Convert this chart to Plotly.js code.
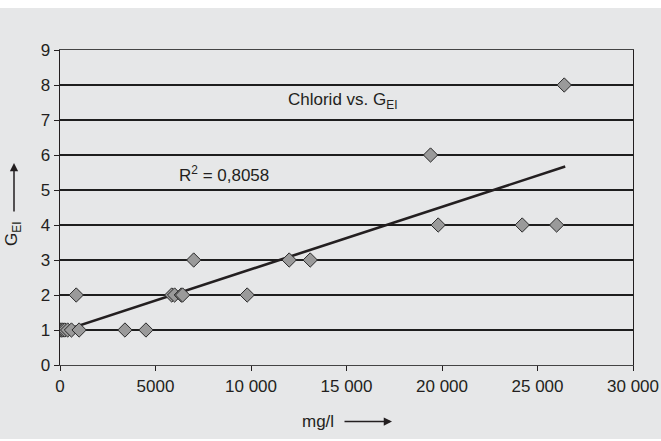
<!DOCTYPE html>
<html>
<head>
<meta charset="utf-8">
<script src="https://cdn.plot.ly/plotly-3.0.1.min.js"></script>
<style>html,body{margin:0;padding:0;background:#fff;}#chart{width:661px;height:441px;}</style>
</head>
<body>
<div id="chart"></div>
<script>
// Measured data: chloride (mg/l) vs G_EI
const chloride = [20, 80, 150, 250, 400, 600, 1000, 850, 3400, 4500, 5850, 6000, 6350, 6420, 7000, 9800, 12000, 13100, 19400, 19800, 24200, 26000, 26400];
const gEI      = [1, 1, 1, 1, 1, 1, 1, 2, 1, 1, 2, 2, 2, 2, 3, 2, 3, 3, 6, 4, 4, 4, 8];
// Trend line endpoints
const trendX = [0, 26450];
const trendY = [0.95, 5.67];
// Axis ticks
const xTickVals = [0, 5000, 10000, 15000, 20000, 25000, 30000];
const xTickText = ["0", "5000", "10 000", "15 000", "20 000", "25 000", "30 000"];
const yTickVals = [0, 1, 2, 3, 4, 5, 6, 7, 8, 9];
const r2Text = "R<sup>2</sup> = 0,8058";
const titleText = "Chlorid vs. G<sub>EI</sub>";

const font = {family: "Liberation Sans, Arial, sans-serif", size: 17, color: "#231f20"};

const traces = [
  {x: trendX, y: trendY, type: "scatter", mode: "lines",
   line: {color: "#231f20", width: 2.6}, hoverinfo: "skip"},
  {x: chloride, y: gEI, type: "scatter", mode: "markers",
   marker: {symbol: "diamond", size: 11, color: "#9a9a9a", line: {color: "#2a2a2a", width: 1}}}
];

const layout = {
  width: 661, height: 441,
  margin: {l: 60, r: 28, t: 50, b: 76},
  paper_bgcolor: "#ffffff",
  plot_bgcolor: "#ffffff",
  showlegend: false,
  font: font,
  xaxis: {
    range: [0, 30000], tickvals: xTickVals, ticktext: xTickText,
    showgrid: false, zeroline: false, showline: true, linecolor: "#444", linewidth: 1.2, mirror: true,
    ticks: "outside", ticklen: 5, tickcolor: "#231f20", tickfont: font
  },
  yaxis: {
    range: [0, 9], tickvals: yTickVals,
    showgrid: true, gridcolor: "#1e1e1e", gridwidth: 1.2,
    zeroline: false, showline: true, linecolor: "#231f20", linewidth: 1.3, mirror: true,
    ticks: "outside", ticklen: 5, tickcolor: "#231f20", tickfont: font
  },
  shapes: [
    {type: "rect", xref: "paper", yref: "paper", layer: "below",
     x0: -60/573, x1: 1 + 28/573, y0: (-76+2)/315, y1: 1 + (50-8)/315,
     fillcolor: "#e6e7e8", line: {width: 0}}
  ],
  annotations: [
    {x: 6100, y: 5.45, xref: "x", yref: "y", text: r2Text, showarrow: false,
     xanchor: "left", yanchor: "middle", font: font},
    {x: 11850, y: 7.55, xref: "x", yref: "y", text: titleText, showarrow: false,
     xanchor: "left", yanchor: "middle", font: font},
    // x-axis title with arrow
    {x: (300 - 60)/573, y: -(421.5 - 365)/315, xref: "paper", yref: "paper", text: "mg/l",
     showarrow: false, xanchor: "left", yanchor: "middle", font: font},
    {x: (392 - 60)/573, y: -(421.5 - 365)/315, xref: "paper", yref: "paper", text: "",
     showarrow: true, ax: -49, ay: 0, arrowhead: 2, arrowsize: 1.1, arrowwidth: 1.5, arrowcolor: "#231f20"},
    // y-axis title with arrow
    {x: -(60 - 13)/573, y: (365 - 234)/315, xref: "paper", yref: "paper", text: "G<sub>EI</sub>",
     textangle: -90, showarrow: false, xanchor: "center", yanchor: "middle", font: font},
    {x: -(60 - 14)/573, y: (365 - 163)/315, xref: "paper", yref: "paper", text: "",
     showarrow: true, ax: 0, ay: 50, arrowhead: 2, arrowsize: 1.1, arrowwidth: 1.5, arrowcolor: "#231f20"}
  ]
};

Plotly.newPlot("chart", traces, layout, {displayModeBar: false, staticPlot: true});
</script>
</body>
</html>
